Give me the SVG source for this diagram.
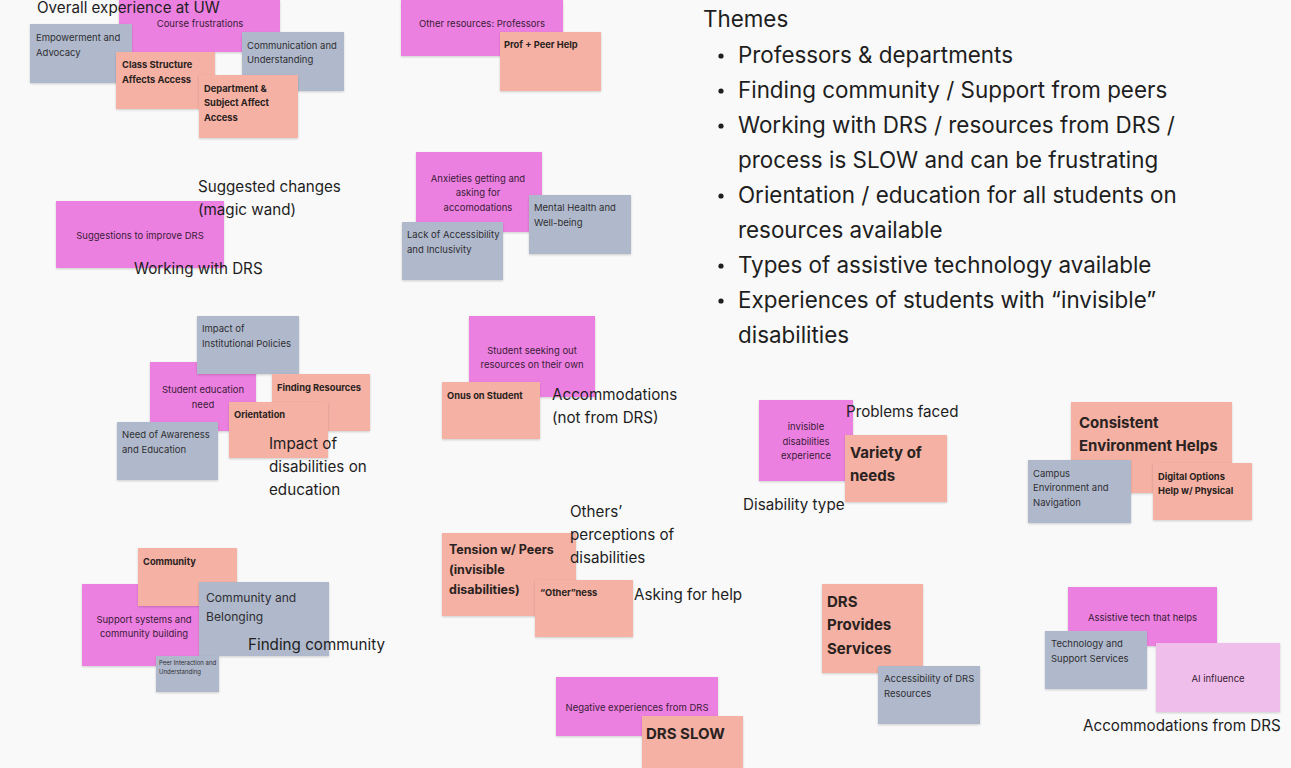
<svg xmlns="http://www.w3.org/2000/svg" width="1291" height="768" viewBox="0 0 1291 768">
<defs>
<filter id="sh" x="-10%" y="-10%" width="120%" height="130%"><feDropShadow dx="0" dy="1" stdDeviation="0.8" flood-color="#000" flood-opacity="0.18"/></filter>
<style>
text{font-family:Inter,"Liberation Sans",sans-serif;}
.m{fill:#EC80E0;filter:url(#sh);}
.s{fill:#F4B1A4;filter:url(#sh);}
.g{fill:#B0B9CB;filter:url(#sh);}
.p{fill:#F0BEEA;filter:url(#sh);}
.tm{font-size:9.5px;fill:#3A1C38;text-anchor:middle;}
.tg{font-size:9.5px;fill:#2E2E33;}
.b{font-size:9.3px;font-weight:700;fill:#2A2220;}
.B{font-size:15px;font-weight:700;fill:#2A2220;}
.lbl{font-size:15.2px;fill:#1E1E1E;}
.th{font-size:22.4px;fill:#1E1E1E;}
</style>
</defs>
<rect width="1291" height="768" fill="#F9F9F9"/>
<g id="connectors"></g>

<!-- Overall experience cluster -->
<g id="n-course"><rect class="m" x="119" y="0" width="161" height="52"/><text class="tm" x="200" y="26.5">Course frustrations</text></g>
<g id="n-empower"><rect class="g" x="30" y="24" width="102" height="59"/><text class="tg" x="36" y="40.5">Empowerment and</text><text class="tg" x="36" y="55.5">Advocacy</text></g>
<g id="n-comm"><rect class="g" x="242" y="32" width="102" height="59"/><text class="tg" x="247" y="48.5">Communication and</text><text class="tg" x="247" y="63">Understanding</text></g>
<g id="n-class"><rect class="s" x="116" y="52" width="99" height="57"/><text class="b" x="122" y="67.5">Class Structure</text><text class="b" x="122" y="82.5">Affects Access</text></g>
<g id="n-dept"><rect class="s" x="199" y="75" width="99" height="63"/><text class="b" x="204" y="91.5">Department &amp;</text><text class="b" x="204" y="105.5">Subject Affect</text><text class="b" x="204" y="120.5">Access</text></g>
<g id="l-overall"><text class="lbl" x="37" y="12.5">Overall experience at UW</text></g>

<!-- Other resources -->
<g id="n-other"><rect class="m" x="401" y="0" width="162" height="56"/><text class="tm" x="482" y="27">Other resources: Professors</text></g>
<g id="n-prof"><rect class="s" x="500" y="32" width="101" height="59"/><text class="b" x="504" y="47.5">Prof + Peer Help</text></g>

<!-- Suggestions -->
<g id="n-sugg"><rect class="m" x="56" y="201" width="168" height="67"/><text class="tm" x="140" y="239">Suggestions to improve DRS</text></g>
<g id="l-sugg"><text class="lbl" x="198" y="191.5">Suggested changes</text><text class="lbl" x="198" y="214.5">(magic wand)</text></g>
<g id="l-working"><text class="lbl" x="134" y="273.5">Working with DRS</text></g>

<!-- Anxieties -->
<g id="n-anx"><rect class="m" x="416" y="152" width="126" height="80"/><text class="tm" x="478" y="181.5">Anxieties getting and</text><text class="tm" x="478" y="196">asking for</text><text class="tm" x="478" y="210.5">accomodations</text></g>
<g id="n-lack"><rect class="g" x="402" y="222" width="101" height="58"/><text class="tg" x="407" y="237.5">Lack of Accessibility</text><text class="tg" x="407" y="252.5">and Inclusivity</text></g>
<g id="n-mental"><rect class="g" x="529" y="195" width="102" height="59"/><text class="tg" x="534" y="210.5">Mental Health and</text><text class="tg" x="534" y="225.5">Well-being</text></g>

<!-- Education -->
<g id="n-edu"><rect class="m" x="150" y="362" width="106" height="69"/><text class="tm" x="203" y="393">Student education</text><text class="tm" x="203" y="408">need</text></g>
<g id="n-impact"><rect class="g" x="197" y="316" width="102" height="58"/><text class="tg" x="202" y="331.5">Impact of</text><text class="tg" x="202" y="346.5">Institutional Policies</text></g>
<g id="n-findres"><rect class="s" x="272" y="374" width="98" height="57"/><text class="b" x="277" y="390.5">Finding Resources</text></g>
<g id="n-orient"><rect class="s" x="229" y="402" width="99" height="56"/><text class="b" x="234" y="417.5">Orientation</text></g>
<g id="n-need"><rect class="g" x="117" y="422" width="101" height="58"/><text class="tg" x="122" y="437.5">Need of Awareness</text><text class="tg" x="122" y="452.5">and Education</text></g>
<g id="l-impact"><text class="lbl" x="269" y="448.5">Impact of</text><text class="lbl" x="269" y="471.5">disabilities on</text><text class="lbl" x="269" y="494.5">education</text></g>

<!-- Accommodations not from DRS -->
<g id="n-seek"><rect class="m" x="469" y="316" width="126" height="81"/><text class="tm" x="532" y="353.5">Student seeking out</text><text class="tm" x="532" y="367.5">resources on their own</text></g>
<g id="n-onus"><rect class="s" x="442" y="382" width="98" height="57"/><text class="b" x="447" y="398.5">Onus on Student</text></g>
<g id="l-accnot"><text class="lbl" x="552" y="400">Accommodations</text><text class="lbl" x="552" y="423">(not from DRS)</text></g>

<!-- Themes -->
<g id="themes">
<text class="th" x="703" y="27">Themes</text>
<circle cx="721" cy="56" r="2.6" fill="#1E1E1E"/><text class="th" x="738" y="63">Professors &amp; departments</text>
<circle cx="721" cy="91" r="2.6" fill="#1E1E1E"/><text class="th" x="738" y="98">Finding community / Support from peers</text>
<circle cx="721" cy="126" r="2.6" fill="#1E1E1E"/><text class="th" x="738" y="133">Working with DRS / resources from DRS /</text>
<text class="th" x="738" y="168">process is SLOW and can be frustrating</text>
<circle cx="721" cy="196" r="2.6" fill="#1E1E1E"/><text class="th" x="738" y="203">Orientation / education for all students on</text>
<text class="th" x="738" y="238">resources available</text>
<circle cx="721" cy="266" r="2.6" fill="#1E1E1E"/><text class="th" x="738" y="273">Types of assistive technology available</text>
<circle cx="721" cy="301" r="2.6" fill="#1E1E1E"/><text class="th" x="738" y="308">Experiences of students with “invisible”</text>
<text class="th" x="738" y="343">disabilities</text>
</g>

<!-- Disability type -->
<g id="n-invis"><rect class="m" x="759" y="400" width="94" height="81"/><text class="tm" x="806" y="429.5">invisible</text><text class="tm" x="806" y="444.5">disabilities</text><text class="tm" x="806" y="458.5">experience</text></g>
<g id="n-variety"><rect class="s" x="845" y="435" width="102" height="67"/><text class="B" x="850" y="457.5">Variety of</text><text class="B" x="850" y="480.5">needs</text></g>
<g id="l-problems"><text class="lbl" x="846" y="417">Problems faced</text></g>
<g id="l-distype"><text class="lbl" x="743" y="509.5">Disability type</text></g>

<!-- Consistent environment -->
<g id="n-consist"><rect class="s" x="1071" y="402" width="161" height="91"/><text class="B" x="1079" y="427.5">Consistent</text><text class="B" x="1079" y="450.5">Environment Helps</text></g>
<g id="n-campus"><rect class="g" x="1028" y="460" width="103" height="63"/><text class="tg" x="1033" y="476.5">Campus</text><text class="tg" x="1033" y="490.5">Environment and</text><text class="tg" x="1033" y="505.5">Navigation</text></g>
<g id="n-digital"><rect class="s" x="1153" y="463" width="99" height="57"/><text class="b" x="1158" y="479.5">Digital Options</text><text class="b" x="1158" y="493.5">Help w/ Physical</text></g>

<!-- Community -->
<g id="n-support"><rect class="m" x="82" y="584" width="128" height="82"/><text class="tm" x="144" y="622.5">Support systems and</text><text class="tm" x="144" y="636.5">community building</text></g>
<g id="n-community"><rect class="s" x="138" y="548" width="99" height="58"/><text class="b" x="143" y="564.5">Community</text></g>
<g id="n-belong"><rect class="g" x="199" y="582" width="130" height="74"/><text class="tg" style="font-size:12.1px" x="206" y="601.5">Community and</text><text class="tg" style="font-size:12.1px" x="206" y="620.5">Belonging</text></g>
<g id="n-peer"><rect class="g" x="156" y="656" width="63" height="36"/><text class="tg" style="font-size:6px" x="159" y="665">Peer Interaction and</text><text class="tg" style="font-size:6px" x="159" y="674">Understanding</text></g>
<g id="l-findcomm"><text class="lbl" x="248" y="649.5">Finding community</text></g>

<!-- Others' perceptions -->
<g id="n-tension"><rect class="s" x="442" y="533" width="134" height="83"/><text class="b" style="font-size:12.5px" x="449" y="553.5">Tension w/ Peers</text><text class="b" style="font-size:12.5px" x="449" y="573.5">(invisible</text><text class="b" style="font-size:12.5px" x="449" y="593.5">disabilities)</text></g>
<g id="n-otherness"><rect class="s" x="535" y="580" width="98" height="57"/><text class="b" x="540" y="595.5">“Other”ness</text></g>
<g id="l-perc"><text class="lbl" x="570" y="517">Others’</text><text class="lbl" x="570" y="540">perceptions of</text><text class="lbl" x="570" y="563">disabilities</text></g>
<g id="l-asking"><text class="lbl" x="634" y="599.5">Asking for help</text></g>

<!-- Negative DRS -->
<g id="n-neg"><rect class="m" x="556" y="677" width="162" height="59"/><text class="tm" x="637" y="710.5">Negative experiences from DRS</text></g>
<g id="n-slow"><rect class="s" x="642" y="716" width="101" height="60"/><text class="B" x="646" y="738.5">DRS SLOW</text></g>

<!-- DRS provides -->
<g id="n-provides"><rect class="s" x="822" y="584" width="101" height="89"/><text class="B" x="827" y="606.5">DRS</text><text class="B" x="827" y="629.5">Provides</text><text class="B" x="827" y="653.5">Services</text></g>
<g id="n-access"><rect class="g" x="878" y="666" width="102" height="58"/><text class="tg" x="884" y="681.5">Accessibility of DRS</text><text class="tg" x="884" y="696.5">Resources</text></g>

<!-- Accommodations from DRS -->
<g id="n-assist"><rect class="m" x="1068" y="587" width="149" height="59"/><text class="tm" x="1142.5" y="620.5">Assistive tech that helps</text></g>
<g id="n-tech"><rect class="g" x="1045" y="631" width="102" height="58"/><text class="tg" x="1051" y="646.5">Technology and</text><text class="tg" x="1051" y="661.5">Support Services</text></g>
<g id="n-ai"><rect class="p" x="1156" y="643" width="124" height="69"/><text class="tm" x="1218" y="681.5">AI influence</text></g>
<g id="l-accdrs"><text class="lbl" x="1083" y="730.5">Accommodations from DRS</text></g>
</svg>
